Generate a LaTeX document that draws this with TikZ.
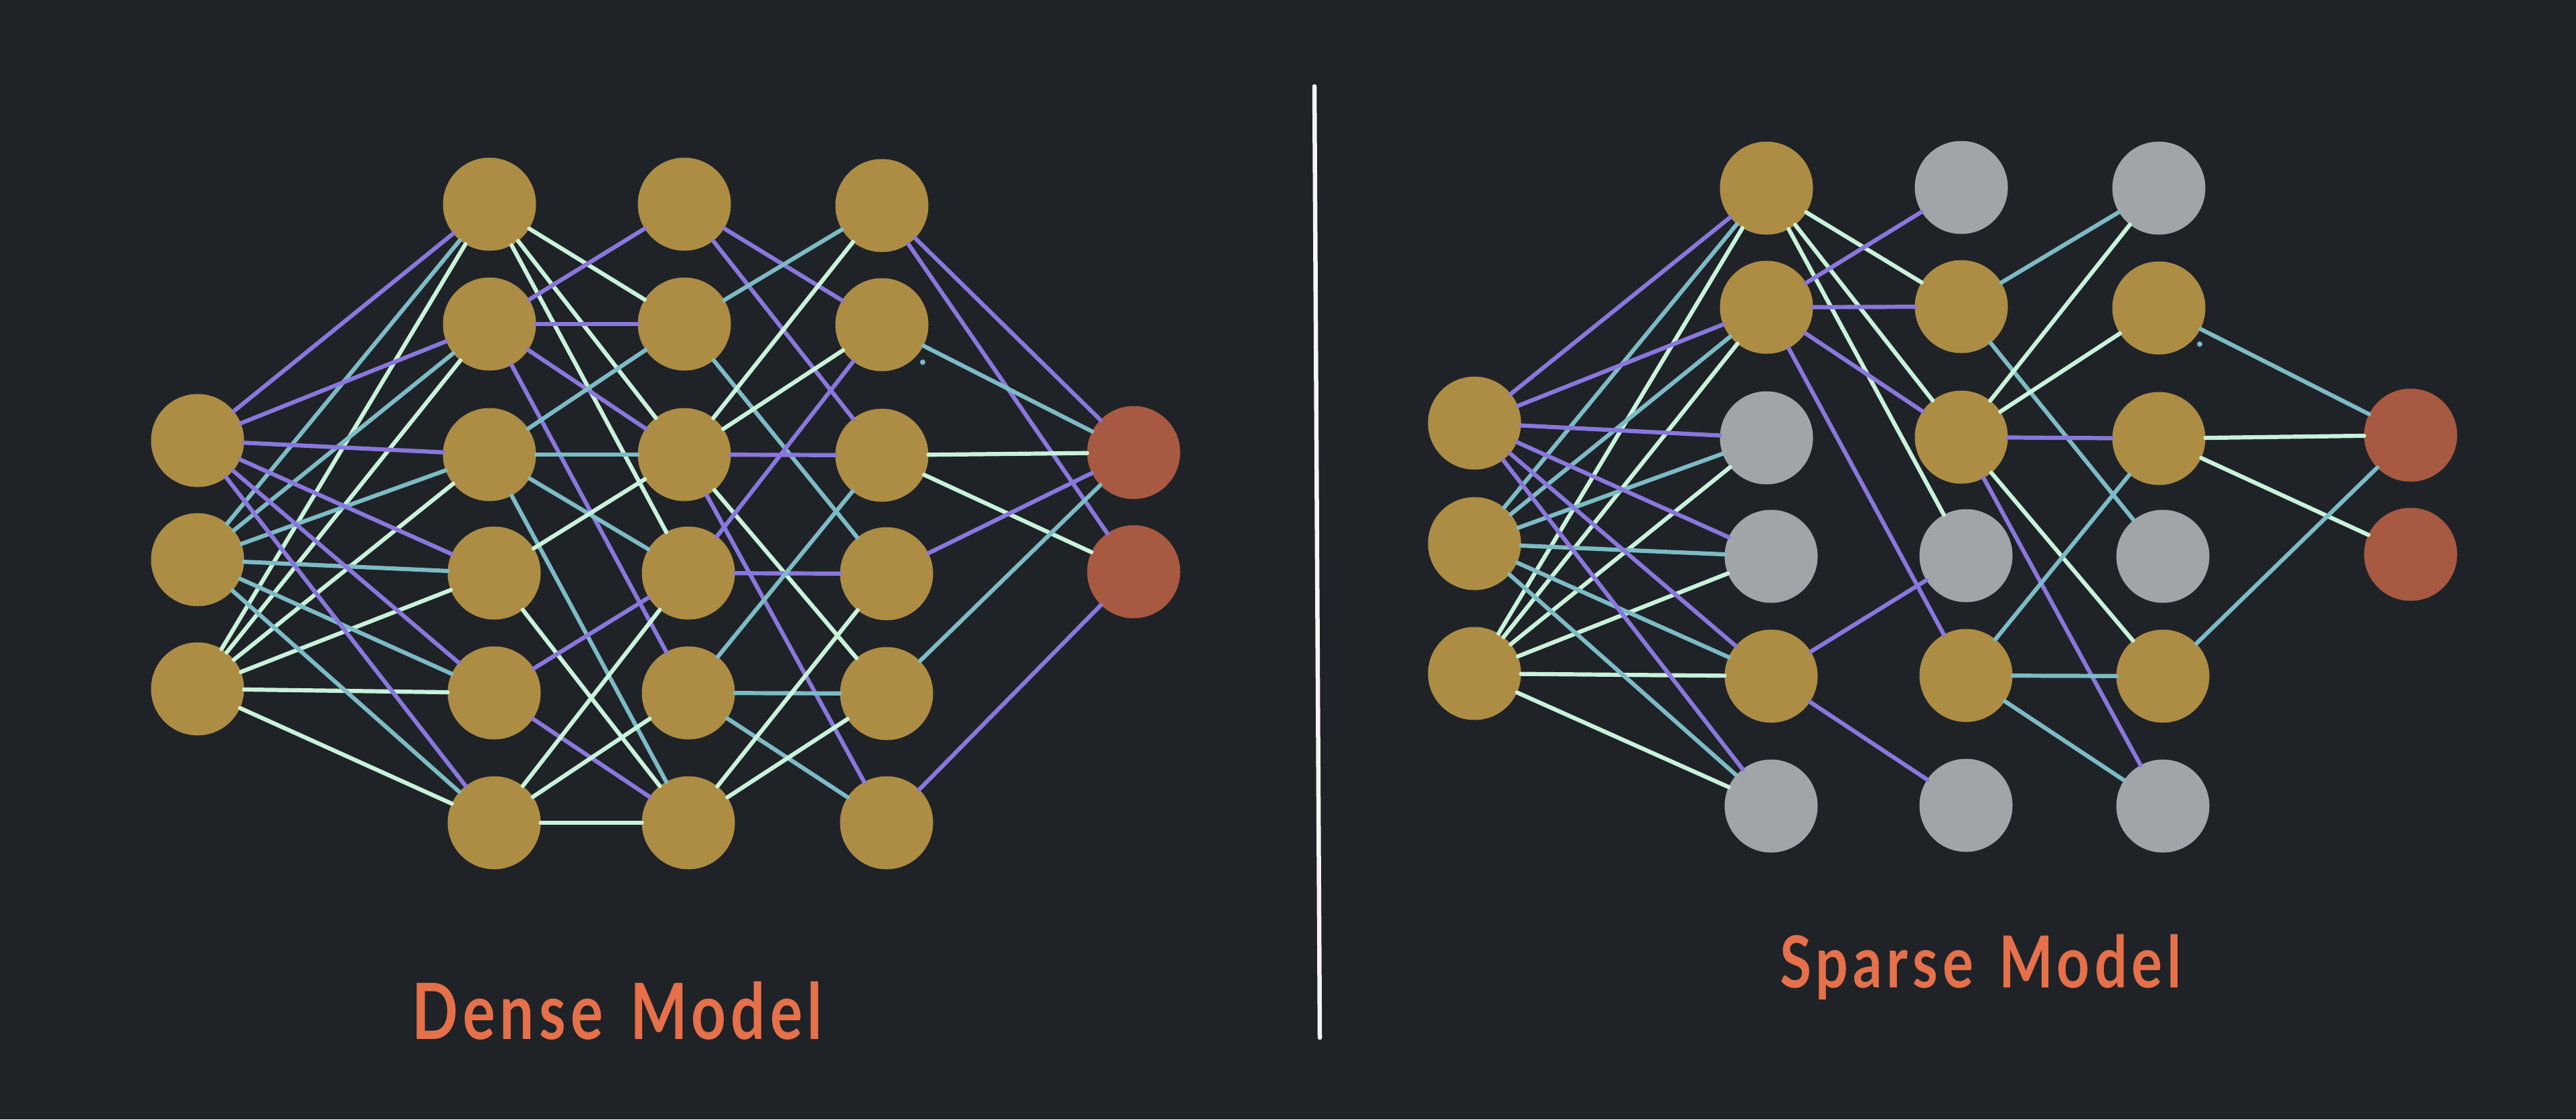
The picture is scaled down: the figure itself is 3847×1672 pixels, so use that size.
\documentclass[tikz,border=0pt]{standalone}
\usepackage{fontspec}
\setmainfont{Lato}
\newfontfamily\labelfont[LetterSpace=8]{Lato}
\definecolor{bg}{HTML}{1F2328}
\definecolor{ngold}{HTML}{AD8C44}
\definecolor{ngray}{HTML}{A1A5A8}
\definecolor{nred}{HTML}{A85941}
\definecolor{lpurple}{HTML}{8A77DD}
\definecolor{lteal}{HTML}{7DBBC5}
\definecolor{lmint}{HTML}{C9F2DA}
\definecolor{ltext}{HTML}{E5704A}
\definecolor{ldiv}{HTML}{F4F4F4}
\tikzset{
  neuron/.style={circle, minimum size=13.9mm, inner sep=0pt, outer sep=0pt},
  goldn/.style={neuron, fill=ngold},
  grayn/.style={neuron, fill=ngray},
  redn/.style={neuron, fill=nred},
  link/.style={line width=0.62mm, line cap=round},
  caption/.style={text=ltext, anchor=base, inner sep=0pt},
}
\begin{document}
\begin{tikzpicture}[x=0.1mm,y=-0.1mm]
\fill[bg] (0,0) rectangle (3847,1672);
\useasboundingbox (0,0) rectangle (3847,1672);

% ---------- Dense model ----------
\node[goldn] (I1) at (295,658) {};
\node[goldn] (I2) at (295,836) {};
\node[goldn] (I3) at (295,1029) {};
\node[goldn] (A1) at (731,305) {};
\node[goldn] (A2) at (731,484) {};
\node[goldn] (A3) at (731,679) {};
\node[goldn] (A4) at (738,856) {};
\node[goldn] (A5) at (738,1035) {};
\node[goldn] (A6) at (738,1229) {};
\node[goldn] (B1) at (1022,305) {};
\node[goldn] (B2) at (1022,484) {};
\node[goldn] (B3) at (1022,679) {};
\node[goldn] (B4) at (1028,856) {};
\node[goldn] (B5) at (1028,1035) {};
\node[goldn] (B6) at (1028,1229) {};
\node[goldn] (C1) at (1317,307) {};
\node[goldn] (C2) at (1317,485) {};
\node[goldn] (C3) at (1317,680) {};
\node[goldn] (C4) at (1324,857) {};
\node[goldn] (C5) at (1324,1036) {};
\node[goldn] (C6) at (1324,1229) {};
\node[redn] (O1) at (1693,676) {};
\node[redn] (O2) at (1693,854) {};

\foreach \t in {A1,A2,A3,A4,A5,A6} {
  \draw[link,lpurple] (I1) -- (\t);
  \draw[link,lteal] (I2) -- (\t);
  \draw[link,lmint] (I3) -- (\t);
}
\foreach \a/\b/\c in {
  A1/B2/lmint, A1/B3/lmint, A1/B4/lmint,
  A2/B1/lpurple, A2/B2/lpurple, A2/B3/lpurple, A2/B5/lpurple,
  A3/B2/lteal, A3/B3/lteal, A3/B4/lteal, A3/B6/lteal,
  A4/B3/lmint, A4/B6/lmint,
  A5/B4/lpurple, A5/B6/lpurple,
  A6/B4/lmint, A6/B5/lmint, A6/B6/lmint,
  B1/C2/lpurple, B1/C3/lpurple,
  B2/C1/lteal, B2/C4/lteal,
  B3/C1/lmint, B3/C2/lmint, B3/C3/lpurple, B3/C5/lmint, B3/C6/lpurple,
  B4/C2/lpurple, B4/C4/lpurple,
  B5/C3/lteal, B5/C5/lteal, B5/C6/lteal,
  B6/C4/lmint, B6/C5/lmint,
  C1/O1/lpurple, C1/O2/lpurple,
  C2/O1/lteal,
  C3/O1/lmint, C3/O2/lmint,
  C4/O1/lpurple,
  C5/O1/lteal,
  C6/O2/lpurple} {
  \draw[link,\c] (\a) -- (\b);
}
\fill[lteal] (1378,541) circle (4);

% ---------- divider ----------
\coordinate (divtop) at (1963,129);
\coordinate (divbot) at (1971,1550);
\draw[ldiv, line width=0.65mm, line cap=round] (divtop) -- (divbot);

% ---------- Sparse model ----------
\node[goldn] (J1) at (2202,632) {};
\node[goldn] (J2) at (2202,812) {};
\node[goldn] (J3) at (2202,1006) {};
\node[goldn] (D1) at (2638,281) {};
\node[goldn] (D2) at (2638,459) {};
\node[grayn] (D3) at (2638,654) {};
\node[grayn] (D4) at (2645,831) {};
\node[goldn] (D5) at (2645,1010) {};
\node[grayn] (D6) at (2645,1204) {};
\node[grayn] (E1) at (2929,280) {};
\node[goldn] (E2) at (2929,458) {};
\node[goldn] (E3) at (2929,653) {};
\node[grayn] (E4) at (2936,830) {};
\node[goldn] (E5) at (2936,1009) {};
\node[grayn] (E6) at (2936,1203) {};
\node[grayn] (F1) at (3224,281) {};
\node[goldn] (F2) at (3224,460) {};
\node[goldn] (F3) at (3224,655) {};
\node[grayn] (F4) at (3230,831) {};
\node[goldn] (F5) at (3230,1010) {};
\node[grayn] (F6) at (3230,1204) {};
\node[redn] (P1) at (3600,650) {};
\node[redn] (P2) at (3600,828) {};

\foreach \t in {D1,D2,D3,D4,D5,D6} {
  \draw[link,lpurple] (J1) -- (\t);
  \draw[link,lteal] (J2) -- (\t);
  \draw[link,lmint] (J3) -- (\t);
}
\foreach \a/\b/\c in {
  D1/E2/lmint, D1/E3/lmint, D1/E4/lmint,
  D2/E1/lpurple, D2/E2/lpurple, D2/E3/lpurple, D2/E5/lpurple,
  D5/E4/lpurple, D5/E6/lpurple,
  E2/F1/lteal, E2/F4/lteal,
  E3/F1/lmint, E3/F2/lmint, E3/F3/lpurple, E3/F5/lmint, E3/F6/lpurple,
  E5/F3/lteal, E5/F5/lteal, E5/F6/lteal,
  F2/P1/lteal,
  F3/P1/lmint, F3/P2/lmint,
  F5/P1/lteal} {
  \draw[link,\c] (\a) -- (\b);
}
\fill[lteal] (3285,514) circle (4);

% ---------- captions ----------
\node[caption] (densecap) at (922,1552)
  {\scalebox{0.78}[1]{\labelfont\bfseries\fontsize{33}{40}\selectfont Dense\hspace{0.45em}Model}};
\node[caption] (sparsecap) at (2958,1475)
  {\scalebox{0.80}[1]{\labelfont\bfseries\fontsize{30.5}{37}\selectfont Sparse\hspace{0.45em}Model}};
\end{tikzpicture}
\end{document}
